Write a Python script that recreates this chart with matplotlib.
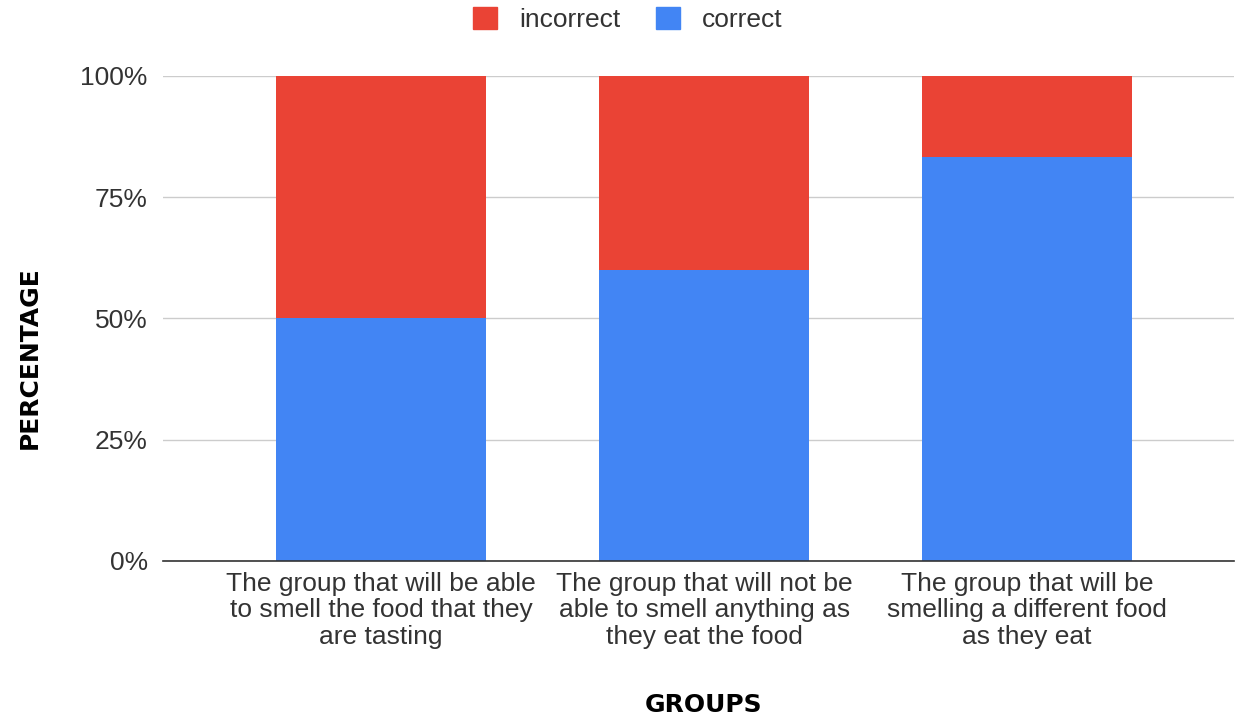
import matplotlib
matplotlib.use("Agg")
import matplotlib.pyplot as plt
from matplotlib.ticker import PercentFormatter
from matplotlib.patches import Patch

categories = [
    "The group that will be able\nto smell the food that they\nare tasting",
    "The group that will not be\nable to smell anything as\nthey eat the food",
    "The group that will be\nsmelling a different food\nas they eat",
]
correct = [50.0, 60.0, 83.3]
incorrect = [50.0, 40.0, 16.7]
yticks = [0, 25, 50, 75, 100]

RED = "#EA4335"
BLUE = "#4285F4"

plt.rcParams['font.family'] = ['Liberation Sans', 'DejaVu Sans']

fig = plt.figure(figsize=(12.36, 7.18), dpi=100)
ax = fig.add_axes([0.132, 0.2187, 0.8665, 0.6755])

x = list(range(len(categories)))
ax.bar(x, correct, width=0.65, color=BLUE, label="correct", zorder=2)
ax.bar(x, incorrect, width=0.65, bottom=correct, color=RED, label="incorrect", zorder=2)

ax.set_xlim(-0.675, 2.641)
ax.set_ylim(0, 100)
ax.set_yticks(yticks)
ax.yaxis.set_major_formatter(PercentFormatter(decimals=0))
ax.grid(axis='y', color='#cccccc', linewidth=1, zorder=0)
for s in ['top', 'right', 'left']:
    ax.spines[s].set_visible(False)
ax.spines['bottom'].set_color('#333333')
ax.spines['bottom'].set_linewidth(1.2)
ax.spines['bottom'].set_zorder(3)
ax.tick_params(axis='both', length=0, labelsize=19, colors='#333333')
ax.tick_params(axis='y', pad=11)
ax.tick_params(axis='x', pad=8)
ax.set_xticks(x)
ax.set_xticklabels(categories, linespacing=1.12)

ax.set_ylabel("PERCENTAGE", fontsize=18, fontweight='heavy', family='DejaVu Sans',
              va='center', ha='center')
ax.yaxis.set_label_coords(-0.125, 0.42)
ax.set_xlabel("GROUPS", fontsize=18, fontweight='heavy', family='DejaVu Sans',
              va='center', ha='center')
ax.xaxis.set_label_coords(0.505, -0.297)

handles = [Patch(color=RED, label="incorrect"), Patch(color=BLUE, label="correct")]
fig.legend(handles=handles, loc='center', bbox_to_anchor=(0.508, 0.973), ncol=2,
           frameon=False, fontsize=19, handlelength=0.9, handleheight=0.9,
           columnspacing=1.35, handletextpad=0.85, labelcolor='#333333')

fig.savefig("out.png", dpi=100)
